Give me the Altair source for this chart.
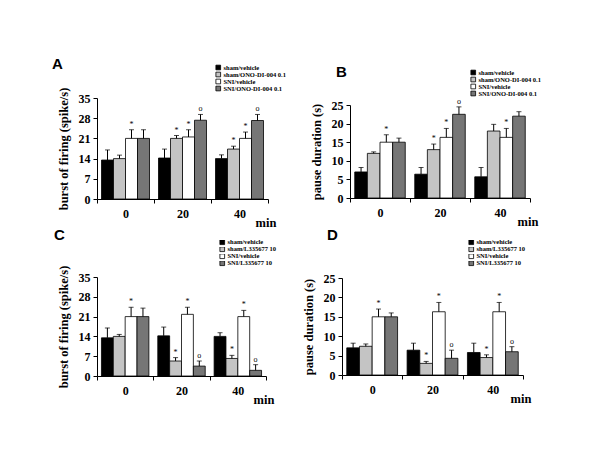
import altair as alt
import pandas as pd

times = ["0", "20", "40"]
groups_ab = ["sham/vehicle", "sham/ONO-DI-004 0.1", "SNI/vehicle", "SNI/ONO-DI-004 0.1"]
groups_cd = ["sham/vehicle", "sham/L335677 10", "SNI/vehicle", "SNI/L335677 10"]
fills = ["#000000", "#c4c4c4", "#ffffff", "#767676"]

# panel A: burst of firing (spike/s)
a_mean = [[13.5, 14.0, 21.0, 21.0], [14.2, 21.0, 21.5, 27.3], [14.0, 17.3, 21.0, 27.2]]
a_upper = [[17.0, 15.2, 24.0, 24.0], [17.3, 22.0, 24.0, 29.3], [15.3, 18.3, 23.2, 29.3]]
a_sig = [["", "", "*", ""], ["", "*", "*", "o"], ["", "*", "*", "o"]]

# panel B: pause duration (s)
b_mean = [[7.0, 12.0, 15.0, 15.0], [6.4, 13.0, 16.3, 22.5], [5.7, 18.0, 16.3, 22.0]]
b_upper = [[8.2, 12.4, 17.0, 16.1], [8.2, 14.5, 18.7, 24.5], [8.2, 19.8, 18.7, 23.2]]
b_sig = [["", "", "*", ""], ["", "*", "*", "o"], ["", "", "*", ""]]

# panel C: burst of firing (spike/s)
c_mean = [[13.5, 14.0, 21.0, 21.0], [14.2, 5.3, 21.8, 3.5], [14.0, 6.2, 21.0, 2.0]]
c_upper = [[17.0, 14.7, 24.3, 24.0], [17.3, 6.5, 24.3, 5.3], [15.3, 7.3, 23.2, 4.0]]
c_sig = [["", "", "*", ""], ["", "*", "*", "o"], ["", "*", "*", "o"]]

# panel D: pause duration (s)
d_mean = [[7.0, 7.4, 15.0, 15.0], [6.4, 3.0, 16.3, 4.3], [5.8, 4.5, 16.3, 6.0]]
d_upper = [[8.2, 8.0, 17.0, 16.0], [8.2, 3.5, 18.7, 6.4], [8.2, 5.2, 18.7, 7.3]]
d_sig = [["", "", "*", ""], ["", "*", "*", "o"], ["", "*", "*", "o"]]

SERIF = "Liberation Serif"
SANS = "Liberation Sans"


def make_df(groups, mean, upper, sig):
    rows = []
    for ti, t in enumerate(times):
        for gi, g in enumerate(groups):
            rows.append({"time": t, "group": g, "gi": gi,
                         "mean": mean[ti][gi], "upper": upper[ti][gi],
                         "sig": sig[ti][gi]})
    return pd.DataFrame(rows)


def panel(letter, groups, mean, upper, sig, ytitle, ymax, ystep, w, h, top,
          lx, ly, clip, tdx, tdy):
    df = make_df(groups, mean, upper, sig)
    yscale = alt.Scale(domain=[0, ymax], nice=False, range=[h, top])
    yaxis = alt.Axis(title=ytitle, values=list(range(0, ymax + 1, ystep)),
                     grid=False, tickSize=4, labelPadding=3,
                     labelOverlap=False, titlePadding=8)
    base = alt.Chart(df).encode(
        x=alt.X("time:N", sort=times,
                scale=alt.Scale(paddingInner=0, paddingOuter=0),
                axis=alt.Axis(title="min", tickBand="extent", labelAngle=0,
                              labelPadding=5, tickSize=4,
                              titleX=w - 13, titleY=27, titleAlign="left",
                              titleBaseline="alphabetic")),
        xOffset=alt.XOffset("gi:O",
                            scale=alt.Scale(paddingInner=0, paddingOuter=0.375)),
    )
    bars = base.mark_bar(stroke="black", strokeWidth=0.8).encode(
        y=alt.Y("mean:Q", scale=yscale, axis=yaxis),
        fill=alt.Fill("group:N", sort=groups,
                      scale=alt.Scale(domain=groups, range=fills),
                      legend=alt.Legend(orient="none", legendX=lx, legendY=ly,
                                        title=None, labelFont=SERIF,
                                        labelFontSize=6.5, labelFontWeight="bold",
                                        labelColor="black",
                                        symbolType="square", symbolSize=22,
                                        symbolStrokeColor="black",
                                        symbolStrokeWidth=0.8, rowPadding=0,
                                        clipHeight=clip,
                                        labelOffset=2, labelLimit=300,
                                        padding=0)),
    )
    rule = base.mark_rule(color="black", strokeWidth=1).encode(
        y=alt.Y("mean:Q", scale=yscale, axis=yaxis), y2="upper:Q")
    cap = base.mark_tick(color="black", size=5, thickness=1).encode(
        y=alt.Y("upper:Q", scale=yscale, axis=yaxis))
    txt = base.mark_text(dy=-1, baseline="bottom", fontSize=8, font=SERIF,
                         fill="black").encode(
        y=alt.Y("upper:Q", scale=yscale, axis=yaxis), text="sig:N")
    return alt.layer(bars, rule, cap, txt).properties(
        width=w, height=h,
        title=alt.TitleParams(letter, anchor="start", frame="group", dx=tdx,
                              dy=tdy, offset=0, font=SANS, fontSize=15,
                              fontWeight="bold", color="black"),
    )


pa = panel("A", groups_ab, a_mean, a_upper, a_sig, "burst of firing (spike/s)",
           35, 7, 171, 101, 0, 118, -34, 7, -45, 8)
pb = panel("B", groups_ab, b_mean, b_upper, b_sig, "pause duration (s)",
           25, 5, 180, 100, 7, 120, -29, 7, -14, 11)
pc = panel("C", groups_cd, c_mean, c_upper, c_sig, "burst of firing (spike/s)",
           35, 7, 169, 99, 0, 122, -37, 4.5, -43, 3)
pd_ = panel("D", groups_cd, d_mean, d_upper, d_sig, "pause duration (s)",
            25, 5, 181, 98, 1, 126, -37, 4.5, -15, 3)

RES = dict(fill="independent", xOffset="independent", x="independent", y="independent")

row1 = alt.hconcat(pa, pb, spacing=24).resolve_scale(**RES).resolve_legend(fill="independent")
row2 = alt.hconcat(pc, pd_, spacing=25).resolve_scale(**RES).resolve_legend(fill="independent")

chart = alt.vconcat(row1, row2, spacing=-1).resolve_scale(**RES).resolve_legend(
    fill="independent"
).properties(
    padding={"left": 44, "top": 49, "right": 5, "bottom": 5},
    background="white",
).configure_view(stroke=None).configure_axis(
    labelFont=SERIF, labelFontSize=12, labelFontWeight="bold", labelColor="black",
    titleFont=SERIF, titleFontSize=12.5, titleFontWeight="bold", titleColor="black",
    domainColor="black", tickColor="black", domainWidth=1
).configure_axisY(labelOverlap=False)

chart.save("out.html", embed_options={"renderer": "svg", "actions": False})
